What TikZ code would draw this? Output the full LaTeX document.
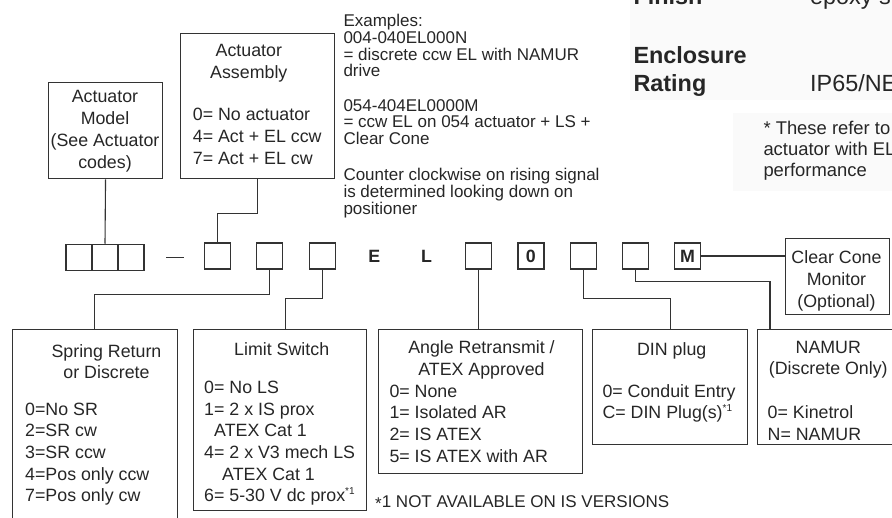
\documentclass[tikz,border=0pt]{standalone}
\usepackage{fontspec}
\setmainfont{Liberation Sans}
\newcommand\boxfont{\fontsize{17.8}{21.7}\selectfont}
\newcommand\notefont{\fontsize{17}{16.8}\selectfont}
\newcommand\headfont{\fontsize{23.4}{28.4}\selectfont}
\newcommand\tp{\rule{0pt}{15pt}}
\newcommand\fn{\raisebox{0.42em}{\fontsize{10}{10}\selectfont *1}}
\begin{document}
\begin{tikzpicture}[x=1pt,y=-1pt,every node/.style={text=black!85},
  box/.style={draw=black!80,line width=1.1pt,inner sep=0pt,anchor=north west},
  sq/.style={draw=black!80,line width=1.1pt,minimum size=26pt,inner sep=0pt},
  sqb/.style={sq,line width=1.6pt,font=\bfseries\boxfont},
  txt/.style={inner sep=0pt,anchor=north west,align=left,font=\boxfont,execute at begin node=\tp,yshift=-2.5pt},
  ctxt/.style={txt,anchor=north,align=center},
  note/.style={txt,font=\notefont},
  head/.style={inner sep=0pt,anchor=base west,font=\headfont},
  link/.style={draw=black!80,line width=1.1pt}]
\useasboundingbox (0,0) rectangle (892,518);
\clip (0,0) rectangle (892,518);
% faint panels top right
\fill[black!2] (630,0) rectangle (892,100);
\fill[black!2] (733,113) rectangle (892,191);
\node[head,font=\headfont\bfseries] (finish) at (633.3,5) {Finish};
\node[head] (finishv) at (810,5) {epoxy s};
\node[head,font=\headfont\bfseries] (encl) at (633.3,63.3) {Enclosure};
\node[head,font=\headfont\bfseries] (rating) at (633.3,91.7) {Rating};
\node[head] (ratingv) at (810,91.7) {IP65/NE};
\node[txt,font=\fontsize{18.4}{21}\selectfont] (star) at (763.3,118.3) {* These refer to\\actuator with EL\\performance};
% code squares
\foreach \i/\x in {1/79,2/105,3/131}
  \node[sq] (cModel\i) at (\x,257.3) {};
\draw[link] (166,257.3) -- (184.3,257.3);
\node[sq] (cAssy) at (217.7,256) {};
\node[sq] (cSpring) at (269.9,256) {};
\node[sq] (cLimit) at (322.1,256) {};
\node[inner sep=0pt,font=\bfseries\boxfont] (cE) at (374.3,256.5) {E};
\node[inner sep=0pt,font=\bfseries\boxfont] (cL) at (426.5,256.5) {L};
\node[sq] (cAngle) at (478.7,256) {};
\node[sqb] (cZero) at (530.9,256) {0};
\node[sq] (cDin) at (583.1,256) {};
\node[sq] (cNamur) at (635.3,256) {};
\node[sqb] (cM) at (687.5,256) {M};
% top boxes
\node[box,minimum width=114.6pt,minimum height=96.6pt] (model) at (47.7,81.7) {};
\node[ctxt] (modelt) at (105,88) {Actuator\\Model\\(See Actuator\\codes)};
\node[box,minimum width=154pt,minimum height=145pt] (assy) at (180.3,33.3) {};
\node[ctxt] (assyt) at (248.8,41.7) {Actuator\\Assembly};
\node[txt] (assyv) at (192.7,105.7) {0= No actuator\\4= Act + EL ccw\\7= Act + EL cw};
\node[note] (ex1) at (343.3,11.5) {Examples:\\004-040EL000N\\= discrete ccw EL with NAMUR\\drive};
\node[note] (ex2) at (343.3,96.5) {054-404EL0000M\\= ccw EL on 054 actuator + LS +\\Clear Cone};
\node[note] (ex3) at (343.3,165.5) {Counter clockwise on rising signal\\is determined looking down on\\positioner};
% bottom boxes
\node[box,minimum width=165pt,minimum height=250pt] (spring) at (11.7,329.3) {};
\node[ctxt] (springt) at (106.5,341.7) {Spring Return\\or Discrete};
\node[txt] (springv) at (25,400) {0=No SR\\2=SR cw\\3=SR ccw\\4=Pos only ccw\\7=Pos only cw};
\node[box,minimum width=173pt,minimum height=181pt] (limit) at (192.7,329.3) {};
\node[ctxt] (limitt) at (281.7,338.3) {Limit Switch};
\node[txt] (limitv) at (204,378.3) {0= No LS\\1= 2 x IS prox\\\hspace*{10pt}ATEX Cat 1\\4= 2 x V3 mech LS\\\hspace*{18pt}ATEX Cat 1\\6= 5-30 V dc prox\fn};
\node[box,minimum width=204pt,minimum height=143.4pt] (angle) at (377.7,329.3) {};
\node[ctxt] (anglet) at (481.5,338.3) {Angle Retransmit /\\ATEX Approved};
\node[txt] (anglev) at (389.3,382) {0= None\\1= Isolated AR\\2= IS ATEX\\5= IS ATEX with AR};
\node[box,minimum width=155.6pt,minimum height=115pt] (din) at (591.7,329.3) {};
\node[ctxt] (dint) at (671.7,338.3) {DIN plug};
\node[txt] (dinv) at (602.3,381.7) {0= Conduit Entry\\C= DIN Plug(s)\fn};
\node[box,minimum width=200pt,minimum height=115pt] (namur) at (757.3,329.3) {};
\node[ctxt] (namurt) at (828.3,338.3) {NAMUR\\(Discrete Only)};
\node[txt] (namurv) at (767.5,403.3) {0= Kinetrol\\N= NAMUR};
\node[box,minimum width=103.5pt,minimum height=76pt] (cone) at (785,238.3) {};
\node[ctxt] (conet) at (836.5,248.3) {Clear Cone\\Monitor\\(Optional)};
\node[note] (foot) at (375,490) {\raisebox{-2pt}{*}1 NOT AVAILABLE ON IS VERSIONS};
% connectors
\draw[link] (model.south) -- (cModel2.north);
\draw[link] (assy.south) -- ++(0,34.4) -| (cAssy.north);
\draw[link] (cSpring.south) -- ++(0,25) -| (spring.north);
\draw[link] (cLimit.south) -- ++(0,28.7) -| ([xshift=5.8pt]limit.north);
\draw[link] (cAngle.south) -- (cAngle.south |- angle.north);
\draw[link] (cDin.south) -- ++(0,29.3) -| (din.north);
\draw[link] (cNamur.south) -- ++(0,12) -| ([xshift=12.7pt]namur.north west);
\draw[link] (cM.east) -- (cM.east -| cone.west);
\end{tikzpicture}
\end{document}
